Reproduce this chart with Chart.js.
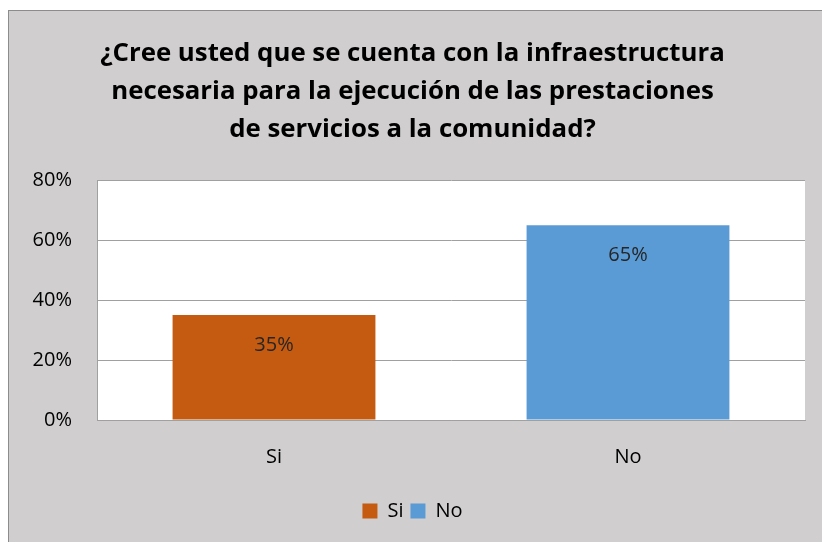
<!DOCTYPE html>
<html lang="es">
<head>
<meta charset="UTF-8">
<title>Infraestructura</title>
<script src="https://cdn.jsdelivr.net/npm/chart.js"></script>
<style>
    body { margin: 0; background: #fff; }
    .wrap { position: absolute; left: 0; top: 0; width: 822px; height: 542px; }
</style>
</head>
<body>
<div class="wrap"><canvas id="chart"></canvas></div>
<script>
const categories = ['Si', 'No'];
const values = [35, 65];
const barColors = ['#c55a11', '#5b9bd5'];
const yTicks = [0, 20, 40, 60, 80];
const titleLines = [
    '¿Cree usted que se cuenta con la infraestructura',
    'necesaria para la ejecución de las prestaciones',
    'de servicios a la comunidad?'
];

const fontFam = '"Open Sans", Lato, sans-serif';

// gray panel + white plot area
const backdrop = {
    id: 'backdrop',
    beforeDraw(chart) {
        const { ctx, chartArea: a } = chart;
        ctx.save();
        ctx.fillStyle = '#d0cece';
        ctx.fillRect(8, 10, chart.width - 8, chart.height - 10);
        ctx.strokeStyle = '#8c8c8c';
        ctx.lineWidth = 1;
        ctx.strokeRect(8.5, 10.5, chart.width, chart.height);
        ctx.fillStyle = '#ffffff';
        ctx.fillRect(a.left, a.top, a.right - a.left, a.bottom - a.top);
        ctx.restore();
    }
};

// value labels inside bars
const barLabels = {
    id: 'barLabels',
    afterDatasetsDraw(chart) {
        const { ctx } = chart;
        const meta = chart.getDatasetMeta(0);
        ctx.save();
        ctx.font = '20px ' + fontFam;
        ctx.fillStyle = '#262626';
        ctx.textAlign = 'center';
        ctx.textBaseline = 'middle';
        meta.data.forEach((bar, i) => {
            ctx.fillText(values[i] + '%', bar.x, bar.y + 30);
        });
        ctx.restore();
    }
};

new Chart(document.getElementById('chart'), {
    type: 'bar',
    data: {
        labels: categories,
        datasets: [{
            data: values,
            backgroundColor: barColors,
            barPercentage: 0.573,
            categoryPercentage: 1
        }]
    },
    options: {
        responsive: true,
        maintainAspectRatio: false,
        animation: false,
        layout: { padding: { left: 20, right: 17, top: 28, bottom: 11 } },
        plugins: {
            title: {
                display: true,
                text: titleLines,
                color: '#000',
                font: { family: fontFam, size: 25.8, weight: 'bold', lineHeight: '38.4px' },
                padding: { top: 6, bottom: 31 }
            },
            legend: {
                position: 'bottom',
                labels: {
                    color: '#000',
                    font: { family: fontFam, size: 20 },
                    boxWidth: 15,
                    boxHeight: 15,
                    padding: 7,
                    generateLabels: () => categories.map((c, i) => ({
                        text: c,
                        fillStyle: barColors[i],
                        strokeStyle: barColors[i],
                        lineWidth: 0,
                        index: i
                    }))
                }
            },
            tooltip: { enabled: false }
        },
        scales: {
            x: {
                grid: { display: false, drawTicks: false },
                border: { display: true, color: '#a0a0a0' },
                ticks: { color: '#000', font: { family: fontFam, size: 20 }, padding: 25 }
            },
            y: {
                min: 0,
                max: 80,
                afterFit: (s) => { s.width = 77; },
                afterBuildTicks: (s) => { s.ticks = yTicks.map(v => ({ value: v })); },
                grid: { color: '#a0a0a0', drawTicks: false },
                border: { display: true, color: '#a0a0a0' },
                ticks: {
                    color: '#000',
                    font: { family: fontFam, size: 20 },
                    padding: 25,
                    callback: (v) => v + '%'
                }
            }
        }
    },
    plugins: [backdrop, barLabels]
});
</script>
</body>
</html>
